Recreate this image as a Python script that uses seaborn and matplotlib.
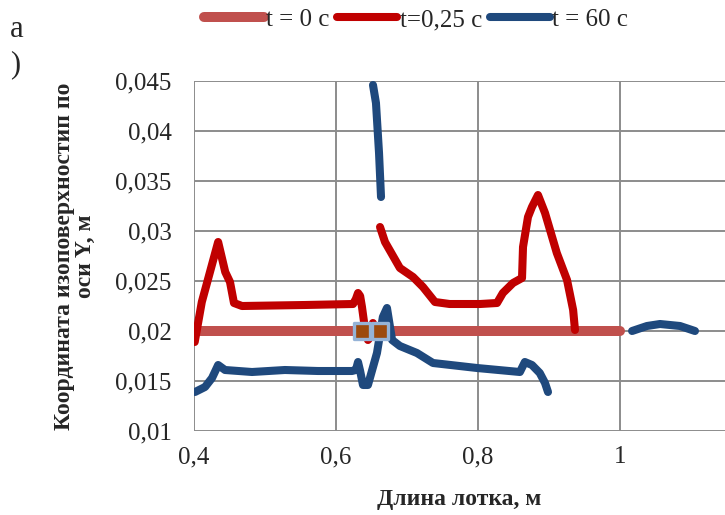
import matplotlib
matplotlib.use("Agg")
import matplotlib.pyplot as plt
import seaborn as sns
import pandas as pd

# ---- data ----
labels = ["t = 0 с", "t=0,25 с", "t = 60 с"]

x_t0 = [0.400, 0.637, 0.662, 1.000]
y_t0 = [0.020, 0.020, 0.020, 0.020]

x_r1 = [0.401, 0.411, 0.4225, 0.434, 0.444, 0.4507, 0.4563, 0.4676, 0.556, 0.624,
        0.628, 0.631, 0.634, 0.6366, 0.641, 0.645, 0.649, 0.652, 0.654]
y_r1 = [0.0189, 0.0229, 0.0259, 0.0289, 0.0259, 0.0249, 0.0228, 0.0225, 0.0226, 0.0227,
        0.0232, 0.0238, 0.0235, 0.0224, 0.0201, 0.0191, 0.0195, 0.0208, 0.0203]

x_r2 = [0.662, 0.669, 0.690, 0.7085, 0.7225, 0.7394, 0.760, 0.803, 0.8268, 0.835, 0.8493,
        0.862, 0.8634, 0.8704, 0.876, 0.8845, 0.8944, 0.911, 0.9254, 0.934, 0.9366]
y_r2 = [0.0304, 0.0289, 0.0263, 0.0254, 0.0244, 0.0229, 0.0227, 0.0227, 0.0228, 0.0238, 0.0248,
        0.0253, 0.0284, 0.0314, 0.0324, 0.0336, 0.0318, 0.0278, 0.0251, 0.0221, 0.0201]

x_b1 = [0.4014, 0.4155, 0.4254, 0.434, 0.4437, 0.4817, 0.528, 0.5746, 0.6225, 0.628, 0.631,
        0.634, 0.638, 0.645, 0.6577, 0.666, 0.6718, 0.679, 0.690, 0.714, 0.7366, 0.7986,
        0.859, 0.866, 0.876, 0.887, 0.8944, 0.8986]
y_b1 = [0.0139, 0.0144, 0.0153, 0.0166, 0.0161, 0.0159, 0.0161, 0.0160, 0.0160, 0.0161, 0.0169,
        0.0160, 0.0146, 0.0146, 0.0178, 0.0214, 0.0223, 0.0191, 0.0185, 0.0178, 0.0168, 0.0163,
        0.0159, 0.0169, 0.0166, 0.0158, 0.0148, 0.0139]

x_b2 = [0.6521, 0.6563, 0.6606, 0.6634]
y_b2 = [0.0446, 0.0428, 0.0378, 0.0334]

x_b3 = [1.017, 1.038, 1.0563, 1.0845, 1.1056]
y_b3 = [0.0200, 0.0205, 0.0207, 0.0205, 0.0200]

x_ticks = [0.4, 0.6, 0.8, 1.0]
x_ticklabels = ["0,4", "0,6", "0,8", "1"]
y_ticks = [0.01, 0.015, 0.02, 0.025, 0.03, 0.035, 0.04, 0.045]
y_ticklabels = ["0,01", "0,015", "0,02", "0,025", "0,03", "0,035", "0,04", "0,045"]

# ---- style ----
sns.set_theme(style="white")
plt.rcParams["font.family"] = ["Liberation Serif", "DejaVu Serif"]

W, H = 725, 515
fig = plt.figure(figsize=(W / 100, H / 100), dpi=100)
ax = fig.add_axes([194 / W, (H - 431) / H, (W - 194) / W, 350 / H])

c0, c1, c2 = "#C0504D", "#C00000", "#1F497D"
LW0, LW = 7.2, 5.8

# t = 0
sns.lineplot(x=x_t0, y=y_t0, sort=False, ax=ax, color=c0, lw=LW0,
             solid_capstyle="round", zorder=2)
# t = 0.25
for xs, ys in [(x_r1, y_r1), (x_r2, y_r2)]:
    sns.lineplot(x=xs, y=ys, sort=False, ax=ax, color=c1, lw=LW,
                 solid_capstyle="round", solid_joinstyle="round", zorder=3)
# t = 60
for xs, ys in [(x_b1, y_b1), (x_b2, y_b2), (x_b3, y_b3)]:
    sns.lineplot(x=xs, y=ys, sort=False, ax=ax, color=c2, lw=LW,
                 solid_capstyle="round", solid_joinstyle="round", zorder=3)
# markers of t = 0 series
sns.scatterplot(x=x_t0[1:3], y=y_t0[1:3], ax=ax, marker="s", s=140,
                color="#9C4A0E", edgecolor="#95B3D7", linewidth=2.4, zorder=5)

ax.set_xlim(0.4, 0.4 + (W - 194) / 710)
ax.set_ylim(0.01, 0.045)
ax.set_xticks(x_ticks)
ax.set_xticklabels(x_ticklabels)
ax.set_yticks(y_ticks)
ax.set_yticklabels(y_ticklabels)
ax.tick_params(axis="y", labelsize=18, length=0, pad=16)
ax.tick_params(axis="x", labelsize=18, length=0, pad=11)
ax.grid(True, color="#8C8C8C", lw=1.4)
for s in ax.spines.values():
    s.set_visible(False)

ax.set_xlabel("Длина лотка, м", fontsize=17, fontweight="bold", labelpad=15)
ax.set_ylabel("Координата изоповерхностип по\nоси Y, м", fontsize=17,
              fontweight="bold", labelpad=14, linespacing=1.0)

handles = [plt.Line2D([], [], color=c, lw=w, solid_capstyle="round")
           for c, w in [(c0, LW0), (c1, LW), (c2, LW)]]
fig.legend(handles, labels, loc="upper center", bbox_to_anchor=(416 / W, 1.027),
           ncol=3, frameon=False, fontsize=18, handlelength=2.4,
           handletextpad=0.1, columnspacing=0.3)

fig.text(10 / W, 1 - 47 / H, "а\n)", fontsize=22, va="center", ha="left",
         linespacing=1.3)

fig.savefig("out.png", dpi=100)
